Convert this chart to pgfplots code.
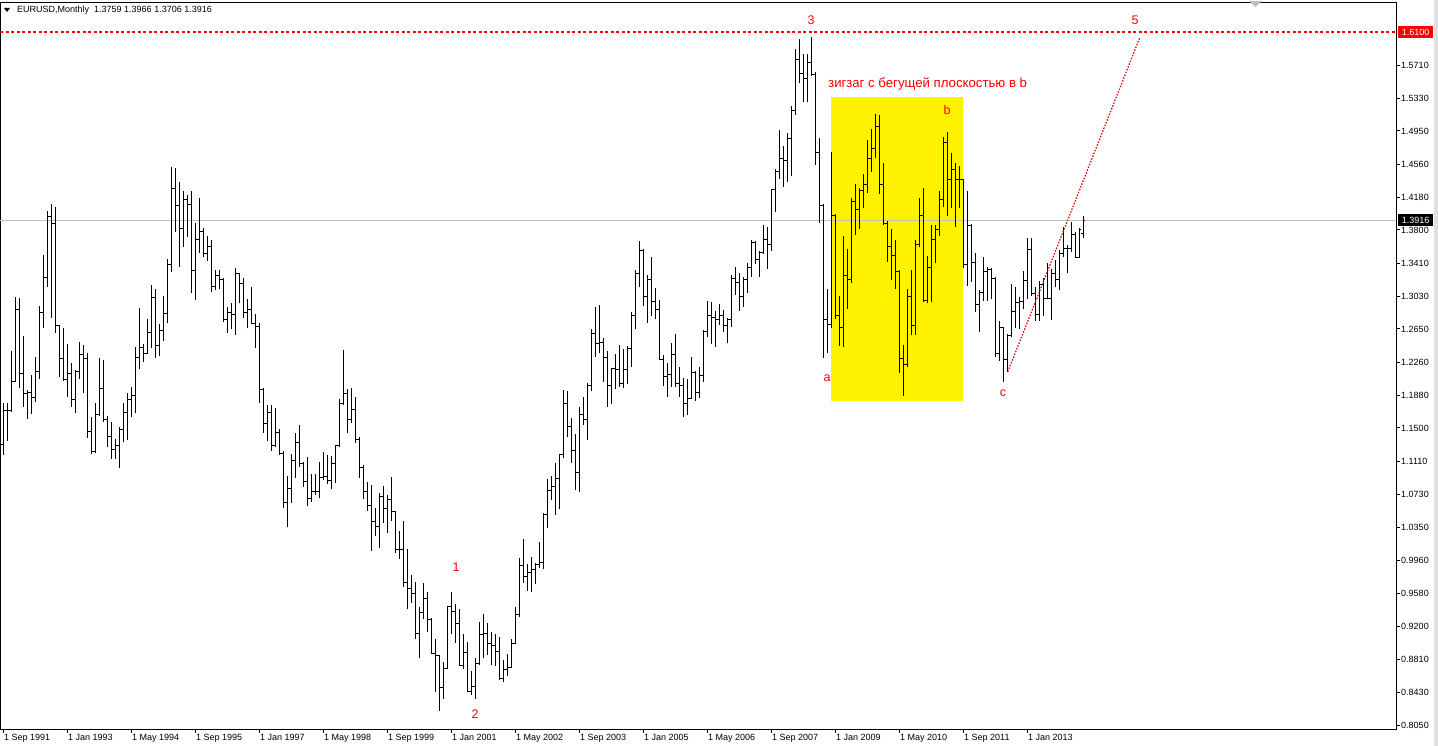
\documentclass[border=0pt]{standalone}
\usepackage{fontspec}
\setmainfont{Liberation Sans}
\usepackage{pgfplots}
\usepackage{pgfplotstable}
\pgfplotsset{compat=1.18}
\definecolor{mtred}{RGB}{255,0,0}
\newcommand{\tf}{\fontsize{9bp}{11bp}\selectfont}
\newcommand{\lf}{\fontsize{12.5bp}{14bp}\selectfont}
\newcommand{\rf}{\fontsize{13.2bp}{15bp}\selectfont}
\pgfdeclareplotmark{otick}{\pgfpathmoveto{\pgfpoint{-2bp}{0bp}}\pgfpathlineto{\pgfpoint{0bp}{0bp}}\pgfusepathqstroke}
\pgfdeclareplotmark{ctick}{\pgfpathmoveto{\pgfpoint{0bp}{0bp}}\pgfpathlineto{\pgfpoint{2bp}{0bp}}\pgfusepathqstroke}
\pgfplotstableread{
i o h l c
0 1.1303 1.1788 1.1187 1.1709
1 1.1709 1.1794 1.1353 1.1709
2 1.1709 1.2394 1.1686 1.2035
3 1.2035 1.3026 1.2030 1.2871
4 1.2871 1.3010 1.1965 1.2128
5 1.2128 1.2569 1.1744 1.1895
6 1.1895 1.1942 1.1605 1.1907
7 1.1907 1.2116 1.1663 1.1860
8 1.1860 1.2325 1.1802 1.2162
9 1.2162 1.2917 1.2069 1.2836
10 1.2836 1.3510 1.2662 1.3243
11 1.3243 1.4021 1.3138 1.3951
12 1.3951 1.4102 1.2778 1.3870
13 1.3870 1.4067 1.2604 1.2685
14 1.2685 1.2697 1.2093 1.2313
15 1.2313 1.2662 1.2046 1.2069
16 1.2069 1.2476 1.1860 1.2128
17 1.2128 1.2255 1.1744 1.1826
18 1.1826 1.2174 1.1674 1.2162
19 1.2162 1.2499 1.2069 1.2348
20 1.2348 1.2464 1.1907 1.2313
21 1.2313 1.2371 1.1384 1.1454
22 1.1454 1.1628 1.1198 1.1222
23 1.1222 1.1791 1.1210 1.1651
24 1.1651 1.2317 1.1640 1.1961
25 1.1961 1.2290 1.1566 1.1593
26 1.1593 1.1640 1.1276 1.1399
27 1.1399 1.1573 1.1140 1.1245
28 1.1245 1.1372 1.1140 1.1291
29 1.1291 1.1515 1.1032 1.1477
30 1.1477 1.1787 1.1334 1.1678
31 1.1678 1.1903 1.1361 1.1826
32 1.1826 1.1980 1.1632 1.1883
33 1.1883 1.2445 1.1671 1.2321
34 1.2321 1.2897 1.2182 1.2437
35 1.2437 1.2476 1.2270 1.2368
36 1.2368 1.2766 1.2360 1.2607
37 1.2607 1.3161 1.2426 1.3018
38 1.3018 1.3115 1.2317 1.2464
39 1.2464 1.2705 1.2340 1.2627
40 1.2627 1.3037 1.2514 1.2832
41 1.2832 1.3463 1.2716 1.3394
42 1.3394 1.4535 1.3316 1.4284
43 1.4284 1.4524 1.3780 1.4090
44 1.4090 1.4354 1.3374 1.3820
45 1.3820 1.4253 1.3606 1.4149
46 1.4149 1.4207 1.3722 1.4099
47 1.4099 1.4253 1.3065 1.3324
48 1.3324 1.3885 1.2987 1.3684
49 1.3684 1.4168 1.3536 1.3777
50 1.3777 1.3824 1.3483 1.3529
51 1.3529 1.3730 1.3443 1.3606
52 1.3606 1.3684 1.3083 1.3141
53 1.3141 1.3336 1.3103 1.3277
54 1.3277 1.3336 1.3111 1.3227
55 1.3227 1.3240 1.2735 1.2763
56 1.2763 1.2909 1.2607 1.2839
57 1.2839 1.2948 1.2647 1.2813
58 1.2813 1.3355 1.2580 1.3289
59 1.3289 1.3304 1.2949 1.3181
60 1.3181 1.3239 1.2781 1.2839
61 1.2839 1.2995 1.2658 1.2882
62 1.2882 1.3135 1.2708 1.2716
63 1.2716 1.2824 1.2426 1.2677
64 1.2677 1.2723 1.1794 1.1950
65 1.1950 1.1960 1.1445 1.1555
66 1.1555 1.1767 1.1353 1.1683
67 1.1683 1.1767 1.1236 1.1294
68 1.1294 1.1729 1.1276 1.1445
69 1.1445 1.1485 1.1187 1.1206
70 1.1206 1.1236 1.0567 1.0637
71 1.0637 1.0943 1.0347 1.0792
72 1.0792 1.1194 1.0626 1.1117
73 1.1117 1.1438 1.0916 1.1334
74 1.1334 1.1535 1.1051 1.1090
75 1.1090 1.1109 1.0818 1.0876
76 1.0876 1.1167 1.0598 1.0684
77 1.0684 1.0966 1.0644 1.0768
78 1.0768 1.0966 1.0722 1.0760
79 1.0760 1.1109 1.0690 1.0920
80 1.0920 1.1225 1.0896 1.0932
81 1.0932 1.1187 1.0850 1.0892
82 1.0892 1.1175 1.0788 1.1082
83 1.1082 1.1303 1.0865 1.1291
84 1.1291 1.1837 1.1280 1.1787
85 1.1787 1.2406 1.1767 1.1903
86 1.1903 1.1950 1.1445 1.1601
87 1.1601 1.1961 1.1562 1.1717
88 1.1717 1.1857 1.1330 1.1369
89 1.1369 1.1399 1.0916 1.1039
90 1.1039 1.1070 1.0672 1.0768
91 1.0768 1.0876 1.0540 1.0598
92 1.0598 1.0838 1.0075 1.0412
93 1.0412 1.0567 1.0246 1.0354
94 1.0354 1.0741 1.0103 1.0702
95 1.0702 1.0826 1.0393 1.0567
96 1.0567 1.0722 1.0277 1.0672
97 1.0672 1.0928 1.0423 1.0528
98 1.0528 1.0540 1.0044 1.0091
99 1.0091 1.0307 0.9978 1.0083
100 1.0083 1.0423 0.9657 0.9708
101 0.9708 1.0095 0.9394 0.9630
102 0.9630 0.9793 0.9471 0.9572
103 0.9572 0.9708 0.9049 0.9115
104 0.9115 0.9425 0.8832 0.9359
105 0.9359 0.9696 0.9278 0.9522
106 0.9522 0.9599 0.9134 0.9270
107 0.9270 0.9297 0.8871 0.8883
108 0.8883 0.9046 0.8430 0.8852
109 0.8852 0.8864 0.8216 0.8488
110 0.8488 0.8786 0.8352 0.8709
111 0.8709 0.9433 0.8697 0.9425
112 0.9425 0.9599 0.9104 0.9374
113 0.9374 0.9452 0.9006 0.9232
114 0.9232 0.9394 0.8735 0.8747
115 0.8747 0.9104 0.8697 0.8895
116 0.8895 0.9018 0.8430 0.8437
117 0.8437 0.8677 0.8399 0.8495
118 0.8495 0.8825 0.8348 0.8767
119 0.8767 0.9250 0.8747 0.9096
120 0.9096 0.9340 0.8825 0.9115
121 0.9115 0.9238 0.8864 0.8999
122 0.8999 0.9127 0.8747 0.8971
123 0.8971 0.9104 0.8735 0.8902
124 0.8902 0.9069 0.8573 0.8593
125 0.8593 0.8805 0.8553 0.8689
126 0.8689 0.8875 0.8619 0.8716
127 0.8716 0.9049 0.8709 0.8999
128 0.8999 0.9417 0.8990 0.9336
129 0.9336 0.9994 0.9301 0.9901
130 0.9901 1.0211 0.9703 0.9773
131 0.9773 0.9921 0.9610 0.9819
132 0.9819 0.9998 0.9599 0.9862
133 0.9862 0.9929 0.9685 0.9909
134 0.9909 1.0172 0.9870 0.9940
135 0.9940 1.0509 0.9859 1.0490
136 1.0490 1.0908 1.0335 1.0772
137 1.0772 1.0943 1.0664 1.0818
138 1.0818 1.1097 1.0490 1.0916
139 1.0916 1.1198 1.0556 1.1187
140 1.1187 1.1942 1.1148 1.1779
141 1.1779 1.1930 1.1392 1.1523
142 1.1523 1.1620 1.1097 1.1233
143 1.1233 1.1430 1.0780 1.0985
144 1.0985 1.1747 1.0753 1.1651
145 1.1651 1.1864 1.1535 1.1593
146 1.1593 1.2019 1.1361 1.1988
147 1.1988 1.2647 1.1934 1.2600
148 1.2600 1.2909 1.2328 1.2476
149 1.2476 1.2929 1.2368 1.2491
150 1.2491 1.2549 1.2038 1.2321
151 1.2321 1.2394 1.1747 1.1988
152 1.1988 1.2201 1.1775 1.2194
153 1.2194 1.2360 1.1950 1.2182
154 1.2182 1.2464 1.1980 1.2019
155 1.2019 1.2414 1.1961 1.2182
156 1.2182 1.2453 1.2011 1.2426
157 1.2426 1.2851 1.2212 1.2801
158 1.2801 1.3336 1.2647 1.3289
159 1.3289 1.3672 1.3135 1.3560
160 1.3560 1.3576 1.2917 1.3033
161 1.3033 1.3277 1.2723 1.3227
162 1.3227 1.3483 1.2801 1.2967
163 1.2967 1.3123 1.2763 1.2871
164 1.2871 1.2987 1.2290 1.2298
165 1.2298 1.2348 1.1988 1.2104
166 1.2104 1.2259 1.1864 1.2124
167 1.2124 1.2484 1.1980 1.2348
168 1.2348 1.2592 1.1973 1.2019
169 1.2019 1.2205 1.1864 1.1988
170 1.1988 1.2077 1.1632 1.1787
171 1.1787 1.2066 1.1651 1.1845
172 1.1845 1.2328 1.1840 1.2143
173 1.2143 1.2162 1.1817 1.1910
174 1.1910 1.2205 1.1852 1.2108
175 1.2108 1.2639 1.2031 1.2619
176 1.2619 1.2975 1.2554 1.2805
177 1.2805 1.2967 1.2472 1.2786
178 1.2786 1.2859 1.2444 1.2763
179 1.2763 1.2940 1.2697 1.2805
180 1.2805 1.2871 1.2619 1.2685
181 1.2685 1.2781 1.2484 1.2766
182 1.2766 1.3277 1.2677 1.3239
183 1.3239 1.3367 1.3045 1.3193
184 1.3193 1.3297 1.2863 1.3025
185 1.3025 1.3258 1.2909 1.3227
186 1.3227 1.3413 1.3065 1.3362
187 1.3362 1.3684 1.3258 1.3653
188 1.3653 1.3676 1.3402 1.3452
189 1.3452 1.3556 1.3258 1.3537
190 1.3537 1.3858 1.3521 1.3684
191 1.3684 1.3831 1.3347 1.3634
192 1.3634 1.4273 1.3556 1.4265
193 1.4265 1.4509 1.4013 1.4477
194 1.4477 1.4962 1.4393 1.4633
195 1.4633 1.4776 1.4303 1.4605
196 1.4605 1.4923 1.4361 1.4857
197 1.4857 1.5240 1.4431 1.5186
198 1.5186 1.5899 1.5135 1.5783
199 1.5783 1.6015 1.5504 1.5620
200 1.5620 1.5845 1.5283 1.5562
201 1.5562 1.5845 1.5290 1.5748
202 1.5748 1.6038 1.5589 1.5601
203 1.5601 1.5639 1.4555 1.4698
204 1.4698 1.4865 1.3878 1.4090
205 1.4090 1.4100 1.2310 1.2755
206 1.2755 1.3111 1.2375 1.2697
207 1.2697 1.4710 1.2666 1.3971
208 1.3971 1.3990 1.2763 1.2801
209 1.2801 1.3038 1.2456 1.2668
210 1.2668 1.3730 1.2444 1.3266
211 1.3266 1.3579 1.2879 1.3227
212 1.3227 1.4168 1.3180 1.4129
213 1.4129 1.4334 1.3742 1.4033
214 1.4033 1.4284 1.3808 1.4253
215 1.4253 1.4451 1.4052 1.4334
216 1.4334 1.4846 1.4233 1.4633
217 1.4633 1.4973 1.4477 1.4741
218 1.4741 1.5148 1.4640 1.5000
219 1.5000 1.5136 1.4218 1.4323
220 1.4323 1.4575 1.3858 1.3870
221 1.3870 1.3908 1.3432 1.3614
222 1.3614 1.3808 1.3219 1.3501
223 1.3501 1.3684 1.3111 1.3316
224 1.3316 1.3330 1.2136 1.2310
225 1.2310 1.2464 1.1872 1.2232
226 1.2232 1.3111 1.2205 1.3033
227 1.3033 1.3336 1.2580 1.2685
228 1.2685 1.3684 1.2580 1.3634
229 1.3634 1.4168 1.3606 1.3974
230 1.3974 1.4284 1.2967 1.2979
231 1.2979 1.3498 1.2949 1.3367
232 1.3367 1.3855 1.2967 1.3692
233 1.3692 1.3858 1.3420 1.3808
234 1.3808 1.4257 1.3730 1.4157
235 1.4157 1.4877 1.4064 1.4814
236 1.4814 1.4942 1.3963 1.4389
237 1.4389 1.4691 1.4052 1.4497
238 1.4497 1.4582 1.3831 1.4389
239 1.4389 1.4543 1.4052 1.4381
240 1.4381 1.4390 1.3355 1.3394
241 1.3394 1.4257 1.3150 1.3858
242 1.3858 1.3870 1.3200 1.3420
243 1.3420 1.3537 1.2851 1.2940
244 1.2940 1.3103 1.2619 1.3076
245 1.3076 1.3483 1.2979 1.3316
246 1.3316 1.3374 1.2979 1.3344
247 1.3344 1.3355 1.2995 1.3239
248 1.3239 1.3250 1.2328 1.2368
249 1.2368 1.2747 1.2282 1.2665
250 1.2665 1.2677 1.2038 1.2298
251 1.2298 1.2588 1.2154 1.2569
252 1.2569 1.3173 1.2554 1.2859
253 1.2859 1.3135 1.2658 1.2960
254 1.2960 1.3025 1.2647 1.2967
255 1.2967 1.3324 1.2879 1.3208
256 1.3208 1.3704 1.2995 1.3576
257 1.3576 1.3704 1.3033 1.3057
258 1.3057 1.3135 1.2747 1.2813
259 1.2813 1.3211 1.2747 1.3166
260 1.3166 1.3242 1.2796 1.3004
261 1.3004 1.3417 1.2996 1.3010
262 1.3010 1.3346 1.2755 1.3300
263 1.3300 1.3452 1.3134 1.3220
264 1.3220 1.3568 1.3104 1.3525
265 1.3525 1.3832 1.3483 1.3585
266 1.3585 1.3620 1.3295 1.3590
267 1.3590 1.3893 1.3545 1.3745
268 1.3745 1.3775 1.3477 1.3486
269 1.3486 1.3824 1.3477 1.3802
270 1.3759 1.3966 1.3706 1.3916
}\bars
\begin{document}
\begin{tikzpicture}
\useasboundingbox (0bp,0bp) rectangle (1438bp,746bp);
\fill[gray!25] (1434bp,0bp) rectangle (1438bp,746bp);
\begin{axis}[
  at={(0bp,17bp)}, anchor=south west, scale only axis,
  width=1396bp, height=726bp,
  xmin=-0.75, xmax=348.25, ymin=0.80036, ymax=1.64369,
  clip=false,
  axis line style={line width=1bp, black},
  tick style={line width=1bp, black},
  tick align=outside, major tick length=4bp,
  xtick pos=left, ytick pos=right,
  xtick={0,16,...,256},
  xticklabels={1 Sep 1991,1 Jan 1993,1 May 1994,1 Sep 1995,1 Jan 1997,1 May 1998,1 Sep 1999,1 Jan 2001,1 May 2002,1 Sep 2003,1 Jan 2005,1 May 2006,1 Sep 2007,1 Jan 2009,1 May 2010,1 Sep 2011,1 Jan 2013},
  xticklabel style={font=\tf, anchor=north west, inner sep=0pt, xshift=1bp, yshift=-1bp},
  ytick={1.5710,1.5330,1.4950,1.4560,1.4180,1.3800,1.3410,1.3030,1.2650,1.2260,1.1880,1.1500,1.1110,1.0730,1.0350,0.9960,0.9580,0.9200,0.8810,0.8430,0.8050},
  yticklabels={1.5710,1.5330,1.4950,1.4560,1.4180,1.3800,1.3410,1.3030,1.2650,1.2260,1.1880,1.1500,1.1110,1.0730,1.0350,0.9960,0.9580,0.9200,0.8810,0.8430,0.8050},
  yticklabel style={font=\tf, anchor=west, inner sep=0pt, xshift=1bp},
]
% yellow rectangle object
\addplot[fill=yellow, draw=none] coordinates {(207,1.1814) (240,1.1814) (240,1.5345) (207,1.5345)} -- cycle;
% bid line and horizontal level
\addplot[color={rgb,255:red,192;green,192;blue,192}, line width=1bp] coordinates {(-0.75,1.3916) (348.25,1.3916)};
\addplot[draw=mtred, color=mtred, line width=1.1bp, dash pattern=on 3bp off 2.5bp] coordinates {(-0.75,1.61) (348.25,1.61)};
% OHLC bars
\addplot[black, line width=1bp, quiver={u=0, v=\thisrow{h}-\thisrow{l}}] table[x=i, y=l] {\bars};
\addplot[black, only marks, mark=otick, mark options={line width=1bp, black}] table[x=i, y=o] {\bars};
\addplot[black, only marks, mark=ctick, mark options={line width=1bp, black}] table[x=i, y=c] {\bars};
% trend line
\addplot[draw=mtred!85!black, line width=1.2bp, dash pattern=on 1.5bp off 1.5bp] coordinates {(251.2,1.2154) (284.25,1.6042)};
% labels
\node[text=mtred, font=\lf] at (axis cs:113.25,0.9886) {1};
\node[text=mtred, font=\lf] at (axis cs:118,0.8178) {2};
\node[text=mtred, font=\lf] at (axis cs:202,1.6239) {3};
\node[text=mtred, font=\lf] at (axis cs:283,1.6239) {5};
\node[text=mtred, font=\lf] at (axis cs:206,1.2081) {a};
\node[text=mtred, font=\lf] at (axis cs:236,1.5194) {b};
\node[text=mtred, font=\lf] at (axis cs:250,1.1907) {c};
\node[text=mtred, font=\rf, anchor=west, inner sep=0pt] at (axis cs:206.25,1.5496) {зигзаг с бегущей плоскостью в b};
\node[fill=mtred, text=white, font=\tf, inner sep=0pt, minimum height=12bp, minimum width=35bp, anchor=west, xshift=2bp] at (axis cs:348.25,1.61) {1.6100};
\node[fill=black, text=white, font=\tf, inner sep=0pt, minimum height=12bp, minimum width=35bp, anchor=west, xshift=2bp] at (axis cs:348.25,1.3916) {1.3916};
\end{axis}
\fill (4bp,738bp) -- (10bp,738bp) -- (7bp,734bp) -- cycle;
\node[anchor=west, inner sep=0pt, font=\tf] at (17bp,736bp) {EURUSD,Monthly\ \ 1.3759 1.3966 1.3706 1.3916};
\fill[gray!50] (1249bp,745bp) -- (1262bp,745bp) -- (1255.5bp,739bp) -- cycle;
\end{tikzpicture}
\end{document}
